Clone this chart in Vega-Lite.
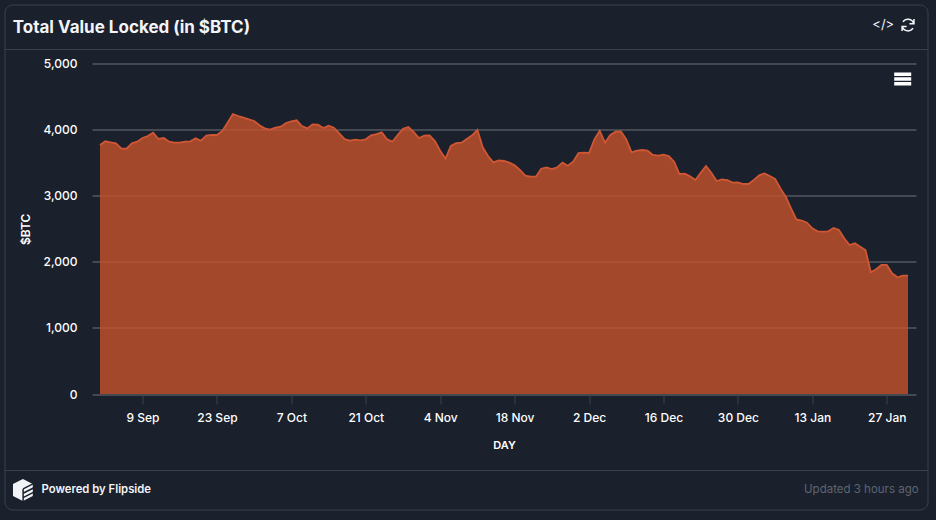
{
  "$schema": "https://vega.github.io/schema/vega-lite/v6.json",
  "width": 923,
  "height": 505,
  "autosize": {"type": "none"},
  "padding": {"left": 4.5, "top": 4.5, "right": 8.5, "bottom": 10.5},
  "background": "#1a202c",
  "view": {"stroke": "#3b424e", "strokeWidth": 1, "cornerRadius": 8},
  "config": {"font": "Inter", "text": {"font": "Inter"}},
  "resolve": {"axis": {"x": "independent", "y": "independent"}},
  "data": {
    "values": [
      {"day":"2024-09-01","btc":3767},{"day":"2024-09-02","btc":3823},{"day":"2024-09-03","btc":3807},{"day":"2024-09-04","btc":3792},{"day":"2024-09-05","btc":3717},{"day":"2024-09-06","btc":3711},{"day":"2024-09-07","btc":3792},{"day":"2024-09-08","btc":3817},{"day":"2024-09-09","btc":3873},{"day":"2024-09-10","btc":3903},
      {"day":"2024-09-11","btc":3953},{"day":"2024-09-12","btc":3858},{"day":"2024-09-13","btc":3873},{"day":"2024-09-14","btc":3817},{"day":"2024-09-15","btc":3802},{"day":"2024-09-16","btc":3802},{"day":"2024-09-17","btc":3817},{"day":"2024-09-18","btc":3823},{"day":"2024-09-19","btc":3868},{"day":"2024-09-20","btc":3832},
      {"day":"2024-09-21","btc":3908},{"day":"2024-09-22","btc":3918},{"day":"2024-09-23","btc":3918},{"day":"2024-09-24","btc":3979},{"day":"2024-09-25","btc":4105},{"day":"2024-09-26","btc":4236},{"day":"2024-09-27","btc":4206},{"day":"2024-09-28","btc":4180},{"day":"2024-09-29","btc":4155},{"day":"2024-09-30","btc":4130},
      {"day":"2024-10-01","btc":4065},{"day":"2024-10-02","btc":4019},{"day":"2024-10-03","btc":3999},{"day":"2024-10-04","btc":4029},{"day":"2024-10-05","btc":4044},{"day":"2024-10-06","btc":4100},{"day":"2024-10-07","btc":4125},{"day":"2024-10-08","btc":4140},{"day":"2024-10-09","btc":4054},{"day":"2024-10-10","btc":4019},
      {"day":"2024-10-11","btc":4080},{"day":"2024-10-12","btc":4075},{"day":"2024-10-13","btc":4024},{"day":"2024-10-14","btc":4059},{"day":"2024-10-15","btc":4029},{"day":"2024-10-16","btc":3944},{"day":"2024-10-17","btc":3858},{"day":"2024-10-18","btc":3832},{"day":"2024-10-19","btc":3848},{"day":"2024-10-20","btc":3838},
      {"day":"2024-10-21","btc":3853},{"day":"2024-10-22","btc":3913},{"day":"2024-10-23","btc":3933},{"day":"2024-10-24","btc":3958},{"day":"2024-10-25","btc":3853},{"day":"2024-10-26","btc":3817},{"day":"2024-10-27","btc":3918},{"day":"2024-10-28","btc":4014},{"day":"2024-10-29","btc":4039},{"day":"2024-10-30","btc":3964},
      {"day":"2024-10-31","btc":3873},{"day":"2024-11-01","btc":3908},{"day":"2024-11-02","btc":3913},{"day":"2024-11-03","btc":3828},{"day":"2024-11-04","btc":3681},{"day":"2024-11-05","btc":3560},{"day":"2024-11-06","btc":3752},{"day":"2024-11-07","btc":3797},{"day":"2024-11-08","btc":3802},{"day":"2024-11-09","btc":3858},
      {"day":"2024-11-10","btc":3913},{"day":"2024-11-11","btc":3994},{"day":"2024-11-12","btc":3732},{"day":"2024-11-13","btc":3600},{"day":"2024-11-14","btc":3505},{"day":"2024-11-15","btc":3535},{"day":"2024-11-16","btc":3525},{"day":"2024-11-17","btc":3500},{"day":"2024-11-18","btc":3459},{"day":"2024-11-19","btc":3389},
      {"day":"2024-11-20","btc":3303},{"day":"2024-11-21","btc":3288},{"day":"2024-11-22","btc":3288},{"day":"2024-11-23","btc":3409},{"day":"2024-11-24","btc":3429},{"day":"2024-11-25","btc":3404},{"day":"2024-11-26","btc":3429},{"day":"2024-11-27","btc":3500},{"day":"2024-11-28","btc":3454},{"day":"2024-11-29","btc":3515},
      {"day":"2024-11-30","btc":3646},{"day":"2024-12-01","btc":3651},{"day":"2024-12-02","btc":3646},{"day":"2024-12-03","btc":3853},{"day":"2024-12-04","btc":3979},{"day":"2024-12-05","btc":3802},{"day":"2024-12-06","btc":3918},{"day":"2024-12-07","btc":3969},{"day":"2024-12-08","btc":3974},{"day":"2024-12-09","btc":3853},
      {"day":"2024-12-10","btc":3656},{"day":"2024-12-11","btc":3681},{"day":"2024-12-12","btc":3691},{"day":"2024-12-13","btc":3681},{"day":"2024-12-14","btc":3616},{"day":"2024-12-15","btc":3605},{"day":"2024-12-16","btc":3620},{"day":"2024-12-17","btc":3600},{"day":"2024-12-18","btc":3515},{"day":"2024-12-19","btc":3328},
      {"day":"2024-12-20","btc":3333},{"day":"2024-12-21","btc":3293},{"day":"2024-12-22","btc":3237},{"day":"2024-12-23","btc":3348},{"day":"2024-12-24","btc":3449},{"day":"2024-12-25","btc":3348},{"day":"2024-12-26","btc":3222},{"day":"2024-12-27","btc":3248},{"day":"2024-12-28","btc":3237},{"day":"2024-12-29","btc":3197},
      {"day":"2024-12-30","btc":3202},{"day":"2024-12-31","btc":3177},{"day":"2025-01-01","btc":3177},{"day":"2025-01-02","btc":3237},{"day":"2025-01-03","btc":3308},{"day":"2025-01-04","btc":3338},{"day":"2025-01-05","btc":3298},{"day":"2025-01-06","btc":3253},{"day":"2025-01-07","btc":3111},{"day":"2025-01-08","btc":2985},
      {"day":"2025-01-09","btc":2809},{"day":"2025-01-10","btc":2642},{"day":"2025-01-11","btc":2622},{"day":"2025-01-12","btc":2592},{"day":"2025-01-13","btc":2506},{"day":"2025-01-14","btc":2461},{"day":"2025-01-15","btc":2456},{"day":"2025-01-16","btc":2461},{"day":"2025-01-17","btc":2511},{"day":"2025-01-18","btc":2481},
      {"day":"2025-01-19","btc":2355},{"day":"2025-01-20","btc":2254},{"day":"2025-01-21","btc":2280},{"day":"2025-01-22","btc":2229},{"day":"2025-01-23","btc":2179},{"day":"2025-01-24","btc":1841},{"day":"2025-01-25","btc":1887},{"day":"2025-01-26","btc":1952},{"day":"2025-01-27","btc":1952},{"day":"2025-01-28","btc":1826},
      {"day":"2025-01-29","btc":1766},{"day":"2025-01-30","btc":1790},{"day":"2025-01-31","btc":1790}
    ]
  },
  "layer": [
    {
      "mark": {"type": "area", "color": "#c7522d", "opacity": 0.8},
      "encoding": {
        "x": {
          "field": "day",
          "type": "temporal",
          "title": "DAY",
          "scale": {
            "type": "utc",
            "domain": [{"year": 2024, "month": 8, "date": 30, "hours": 12, "utc": true}, {"year": 2025, "month": 2, "date": 1, "hours": 12, "utc": true}],
            "range": [87.5, 911.5]
          },
          "axis": {
            "offset": -115.5,
            "labelExpr": "utcFormat(datum.value, '%-d %b')",
            "values": [
              {"year": 2024, "month": 9, "date": 9, "utc": true},
              {"year": 2024, "month": 9, "date": 23, "utc": true},
              {"year": 2024, "month": 10, "date": 7, "utc": true},
              {"year": 2024, "month": 10, "date": 21, "utc": true},
              {"year": 2024, "month": 11, "date": 4, "utc": true},
              {"year": 2024, "month": 11, "date": 18, "utc": true},
              {"year": 2024, "month": 12, "date": 2, "utc": true},
              {"year": 2024, "month": 12, "date": 16, "utc": true},
              {"year": 2024, "month": 12, "date": 30, "utc": true},
              {"year": 2025, "month": 1, "date": 13, "utc": true},
              {"year": 2025, "month": 1, "date": 27, "utc": true}
            ],
            "grid": false,
            "domain": false,
            "tickColor": "#3a404c",
            "tickSize": 10,
            "labelColor": "#ffffff",
            "labelFont": "Inter",
            "labelFontSize": 12,
            "labelFontWeight": 500,
            "labelPadding": 8,
            "labelOverlap": false,
            "titleColor": "#ffffff",
            "titleFont": "Inter",
            "titleFontSize": 11,
            "titleFontWeight": 600,
            "titlePadding": 16
          }
        },
        "y": {
          "field": "btc",
          "type": "quantitative",
          "title": "$BTC",
          "scale": {"domain": [0, 5000], "range": [389.5, 59], "nice": false},
          "axis": {
            "offset": -87.5,
            "values": [0, 1000, 2000, 3000, 4000, 5000],
            "format": ",d",
            "grid": true,
            "gridColor": "#6e7278",
            "domain": false,
            "ticks": false,
            "labelColor": "#ffffff",
            "labelFont": "Inter",
            "labelFontSize": 12,
            "labelFontWeight": 500,
            "labelPadding": 15,
            "titleColor": "#ffffff",
            "titleFont": "Inter",
            "titleFontSize": 12,
            "titleFontWeight": 600,
            "titlePadding": 10
          }
        }
      }
    },
    {
      "mark": {"type": "line", "color": "#cf5734", "strokeWidth": 1.8},
      "encoding": {
        "x": {"field": "day", "type": "temporal", "axis": null},
        "y": {"field": "btc", "type": "quantitative", "axis": null}
      }
    },
    {
      "data": {"values": [{"line": "header"}]},
      "mark": {"type": "rule", "color": "#3b424e"},
      "encoding": {"y": {"datum": 5212, "axis": null}}
    },
    {
      "data": {"values": [{"line": "footer"}]},
      "mark": {"type": "rule", "color": "#3b424e"},
      "encoding": {"y": {"datum": -1157, "axis": null}}
    },
    {
      "data": {"values": [{"label": "Total Value Locked (in $BTC)"}]},
      "mark": {"type": "text", "align": "left", "baseline": "middle", "font": "Inter", "fontSize": 17, "fontWeight": 700, "color": "#f2f4f7"},
      "encoding": {
        "x": {"datum": {"year": 2024, "month": 8, "date": 15, "hours": 14, "utc": true}, "type": "temporal", "axis": null},
        "y": {"datum": 5537, "axis": null},
        "text": {"field": "label"}
      }
    },
    {
      "data": {"values": [{"label": "</>"}]},
      "mark": {"type": "text", "align": "center", "baseline": "middle", "font": "Inter", "fontSize": 13, "color": "#f2f4f7"},
      "encoding": {
        "x": {"datum": {"year": 2025, "month": 1, "date": 26, "hours": 8, "utc": true}, "type": "temporal", "axis": null},
        "y": {"datum": 5582, "axis": null},
        "text": {"field": "label"}
      }
    },
    {
      "data": {"values": [{"icon": "refresh"}]},
      "mark": {"type": "point", "shape": "M0.8,-0.25A0.85,0.85 0 0 0 -0.72,-0.45M-0.8,0.25A0.85,0.85 0 0 0 0.72,0.45M0.85,-0.85V-0.2H0.2M-0.85,0.85V0.2H-0.2", "filled": false, "size": 196, "color": "#f2f4f7", "strokeWidth": 1.5, "opacity": 1},
      "encoding": {
        "x": {"datum": {"year": 2025, "month": 1, "date": 31, "utc": true}, "type": "temporal", "axis": null},
        "y": {"datum": 5582, "axis": null}
      }
    },
    {
      "data": {"values": [{"icon": "menu"}]},
      "mark": {"type": "point", "shape": "M-1,-0.76H1V-0.36H-1ZM-1,-0.2H1V0.2H-1ZM-1,0.36H1V0.76H-1Z", "filled": true, "size": 289, "color": "#ffffff", "opacity": 1},
      "encoding": {
        "x": {"datum": {"year": 2025, "month": 1, "date": 30, "utc": true}, "type": "temporal", "axis": null},
        "y": {"datum": 4766, "axis": null}
      }
    },
    {
      "data": {"values": [{"icon": "logo"}]},
      "mark": {"type": "point", "shape": "M0,-1L0.9,-0.55V0.55L0,1L-0.9,0.55V-0.55Z", "filled": true, "size": 484, "color": "#f2f4f7", "opacity": 1},
      "encoding": {
        "x": {"datum": {"year": 2024, "month": 8, "date": 17, "hours": 12, "utc": true}, "type": "temporal", "axis": null},
        "y": {"datum": -1452, "axis": null}
      }
    },
    {
      "data": {"values": [{"icon": "logo stripes"}]},
      "mark": {"type": "point", "shape": "M0.02,-0.1L1,-0.6M0.02,0.3L1,-0.2M0.02,0.7L1,0.2M0.02,-0.1V1", "filled": false, "size": 484, "color": "#1a202c", "strokeWidth": 1.5, "opacity": 1},
      "encoding": {
        "x": {"datum": {"year": 2024, "month": 8, "date": 17, "hours": 12, "utc": true}, "type": "temporal", "axis": null},
        "y": {"datum": -1452, "axis": null}
      }
    },
    {
      "data": {"values": [{"label": "Powered by Flipside"}]},
      "mark": {"type": "text", "align": "left", "baseline": "middle", "font": "Inter", "fontSize": 11.3, "fontWeight": 600, "color": "#f2f4f7"},
      "encoding": {
        "x": {"datum": {"year": 2024, "month": 8, "date": 21, "utc": true}, "type": "temporal", "axis": null},
        "y": {"datum": -1452, "axis": null},
        "text": {"field": "label"}
      }
    },
    {
      "data": {"values": [{"label": "Updated 3 hours ago"}]},
      "mark": {"type": "text", "align": "right", "baseline": "middle", "font": "Inter", "fontSize": 11.5, "color": "#5f6570"},
      "encoding": {
        "x": {"datum": {"year": 2025, "month": 2, "date": 2, "utc": true}, "type": "temporal", "axis": null},
        "y": {"datum": -1452, "axis": null},
        "text": {"field": "label"}
      }
    }
  ]
}
